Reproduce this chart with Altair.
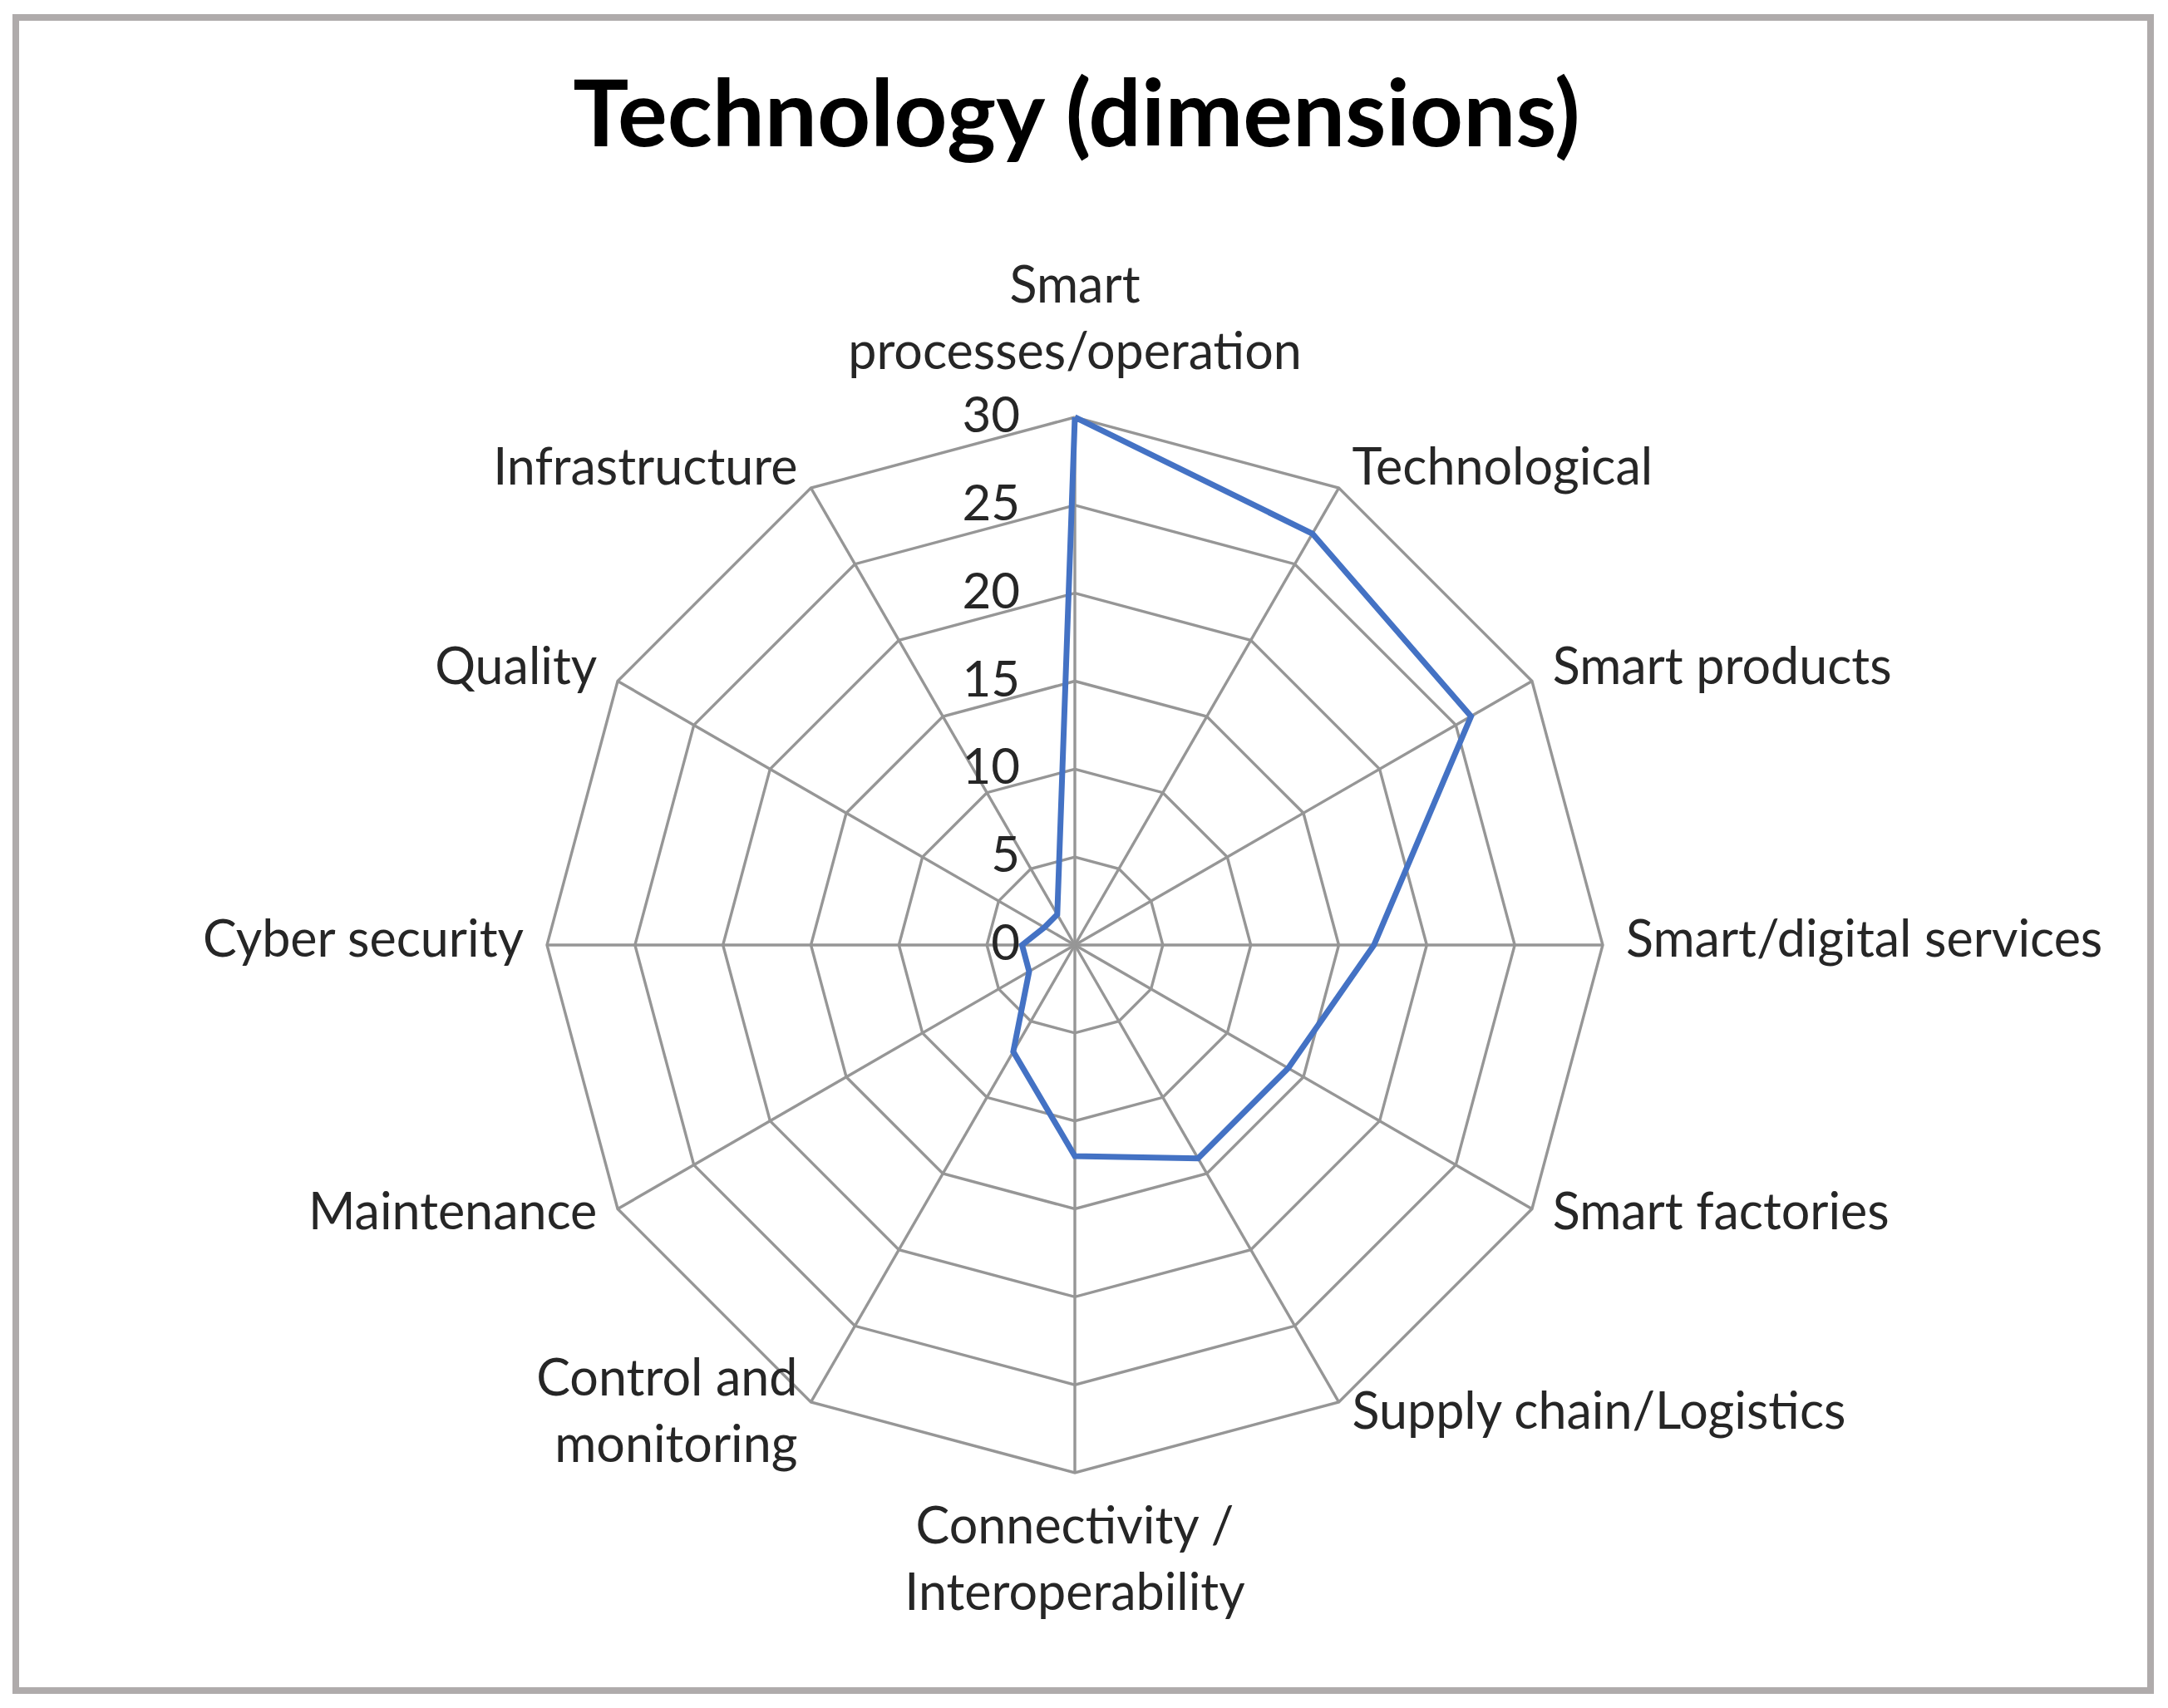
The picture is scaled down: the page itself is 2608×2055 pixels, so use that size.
import altair as alt
import pandas as pd
import numpy as np

# ---------------- data ----------------
categories = [
    "Smart\nprocesses/operation",
    "Technological",
    "Smart products",
    "Smart/digital services",
    "Smart factories",
    "Supply chain/Logistics",
    "Connectivity /\nInteroperability",
    "Control and\nmonitoring",
    "Maintenance",
    "Cyber security",
    "Quality",
    "Infrastructure",
]
values = [30, 27, 26, 17, 14, 14, 12, 7, 3, 3, 2, 2]
tick_values = [0, 5, 10, 15, 20, 25, 30]
title_text = "Technology (dimensions)"

# ---------------- layout ----------------
R_MAX = 30
PLOT_W, PLOT_H = 2568, 2013
CX, CY = 1274, 1116          # centre of the radar inside the plot area (px)
UNIT = 635 / R_MAX           # px per value unit
x_dom = [-CX / UNIT, (PLOT_W - CX) / UNIT]
y_dom = [-(PLOT_H - CY) / UNIT, CY / UNIT]
FONT = "Lato"
GRID = "#969696"
BLUE = "#4472C4"
LABEL_COLOR = "#262626"
LINE_H = 80

n = len(categories)
ang = np.arange(n) * 2 * np.pi / n

# series polygon (closed)
idx = list(range(n)) + [0]
series = pd.DataFrame({
    "x": [values[i] * np.sin(ang[i]) for i in idx],
    "y": [values[i] * np.cos(ang[i]) for i in idx],
    "o": list(range(n + 1)),
})

# grid rings
rows = []
for lv in tick_values[1:]:
    for k, i in enumerate(idx):
        rows.append({"x": lv * np.sin(ang[i]), "y": lv * np.cos(ang[i]), "lv": lv, "o": k})
rings = pd.DataFrame(rows)

# spokes
spokes = pd.DataFrame({
    "x": [0.0] * n, "y": [0.0] * n,
    "x2": R_MAX * np.sin(ang), "y2": R_MAX * np.cos(ang),
})

# value tick labels
ticks = pd.DataFrame({"x": [0.0] * len(tick_values),
                      "y": [float(t) for t in tick_values],
                      "t": [str(t) for t in tick_values]})

# category labels (anchor near the outer vertex; y is the first line's middle)
lab_rows = []
for i, c in enumerate(categories):
    s, co = np.sin(ang[i]), np.cos(ang[i])
    vx, vy = R_MAX * s, R_MAX * co
    nlines = c.count("\n") + 1
    if abs(s) < 1e-9:
        grp = "center"
        off = (116 if co > 0 else -107) / UNIT
        lx, ly = vx, vy + off
    elif s > 0:
        grp = "right"
        lx = vx + (4 + 24 * s) / UNIT
        ly = vy + (4 + 21 * co) / UNIT
    else:
        grp = "left"
        lx = vx - (4 + 24 * abs(s)) / UNIT
        ly = vy + (4 + 21 * co) / UNIT
    ly += (nlines - 1) * LINE_H / 2 / UNIT
    lab_rows.append({"label": c, "x": lx, "y": ly, "g": grp})
labels = pd.DataFrame(lab_rows)


def X(f="x"):
    return alt.X(f, type="quantitative", scale=alt.Scale(domain=x_dom, nice=False, zero=False), axis=None)


def Y(f="y"):
    return alt.Y(f, type="quantitative", scale=alt.Scale(domain=y_dom, nice=False, zero=False), axis=None)


spoke_layer = alt.Chart(spokes).mark_rule(color=GRID, strokeWidth=3.4).encode(
    x=X(), y=Y(), x2="x2", y2="y2")

ring_layer = alt.Chart(rings).mark_line(color=GRID, strokeWidth=3.4).encode(
    x=X(), y=Y(), detail="lv:N", order="o:Q")

series_layer = alt.Chart(series).mark_line(color=BLUE, strokeWidth=7, strokeJoin="miter").encode(
    x=X(), y=Y(), order="o:Q")

tick_layer = alt.Chart(ticks).mark_text(
    align="right", baseline="middle", dx=-66, font=FONT, fontSize=60, color=LABEL_COLOR
).encode(x=X(), y=Y(), text="t:N")


def lab_layer(grp, align):
    return alt.Chart(labels).transform_filter(alt.datum.g == grp).mark_text(
        align=align, baseline="middle", font=FONT, fontSize=61, color=LABEL_COLOR,
        lineBreak="\n", lineHeight=LINE_H
    ).encode(x=X(), y=Y(), text="label:N")


chart = alt.layer(
    spoke_layer, ring_layer, series_layer, tick_layer,
    lab_layer("right", "left"), lab_layer("left", "right"), lab_layer("center", "center"),
).properties(
    width=PLOT_W, height=PLOT_H,
    title=alt.TitleParams(title_text, font=FONT, fontWeight="bold", fontSize=112,
                          color="black", anchor="middle", offset=0, dy=267,
                          baseline="alphabetic", dx=-8),
    autosize=alt.AutoSizeParams(type="none"),
    padding={"left": 11, "top": 13, "right": 11, "bottom": 11},
).configure_view(stroke="#afabab", strokeWidth=8)

chart.save("out.html", embed_options={"renderer": "svg", "actions": False})
